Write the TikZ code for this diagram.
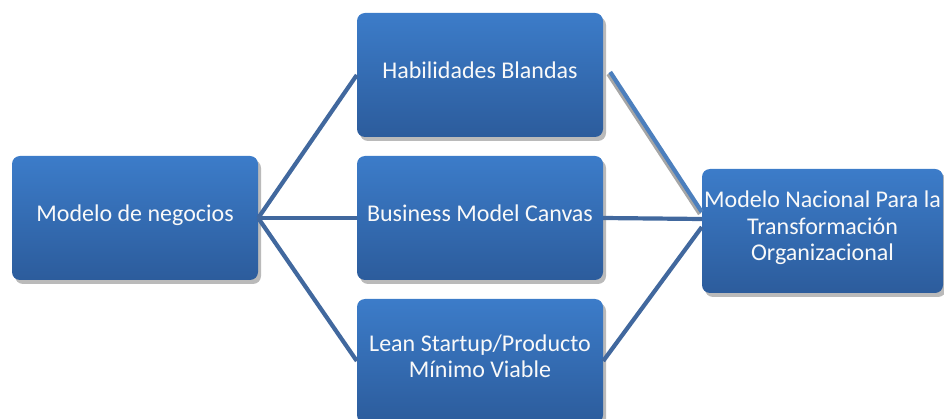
\documentclass[tikz,border=0pt]{standalone}
\usepackage{fontspec}
\setmainfont{Carlito}
\usetikzlibrary{shadows,calc}
\definecolor{boxtop}{HTML}{3C7CC9}
\definecolor{boxbot}{HTML}{2C5C9C}
\definecolor{linkc}{HTML}{41689E}
\definecolor{linklight}{HTML}{4C7FBD}
\newcommand\mybstrut{\rule[-9.75pt]{0pt}{26.5pt}}
\begin{document}
\begin{tikzpicture}[x=1pt,y=-1pt,
 box/.style={rounded corners=8pt, top color=boxtop, bottom color=boxbot, draw=none,
   minimum width=246pt, minimum height=124pt, text=white!95!gray, align=center,
   font=\fontsize{24}{26.5}\selectfont, inner sep=0pt,
   execute at begin node=\mybstrut, execute at end node=\mybstrut,
   drop shadow={shadow xshift=3pt, shadow yshift=-4pt, fill=black!45, opacity=0.6}},
 link/.style={draw=linkc, line width=4.2pt},
 linklt/.style={draw=linklight, line width=4.2pt}]
\useasboundingbox (0,0) rectangle (944,419);
\clip (0,0) rectangle (944,419);
\node[box] (L) at (135,218) {Modelo de negocios};
\node[box] (T) at (480,75) {Habilidades Blandas};
\node[box] (M) at (480,218) {Business Model Canvas};
\node[box] (B) at (480,361) {Lean Startup/Producto\\Mínimo Viable};
\node[box, minimum width=241pt] (R) at (822.5,231) {Modelo Nacional Para la\\Transformación\\Organizacional};
\coordinate (r1) at ($(R.west)+(0,-19)$);
\coordinate (r2) at ($(R.west)+(0,-12)$);
\coordinate (r3) at ($(R.west)+(0,-4)$);
\coordinate (t1) at ($(T.east)+(7,-3)$);
\draw[link] (L.east) -- (T.west);
\draw[link] (L.east) -- (M.west);
\draw[link] (L.east) -- (B.west);
\draw[draw=black!35, line width=4pt] ($(t1)+(-2,2)$) -- ($(r1)+(-2,2)$);
\draw[linklt] (t1) -- (r1);
\draw[link] (M.east) -- (r2);
\draw[link] (B.east) -- (r3);
\end{tikzpicture}
\end{document}
